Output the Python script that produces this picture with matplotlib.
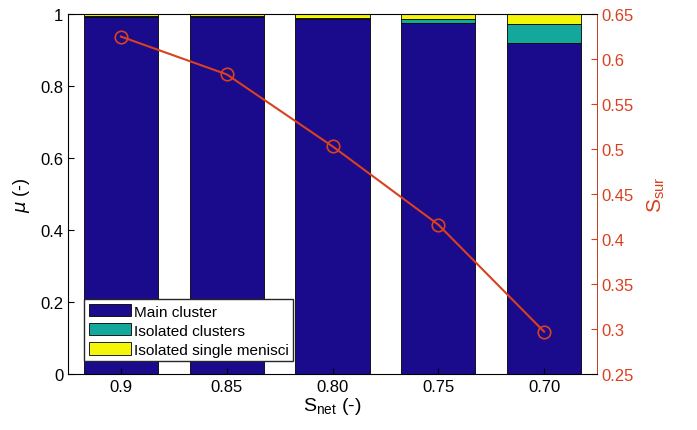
import numpy as np
import matplotlib.pyplot as plt

plt.rcParams['font.family'] = ['Liberation Sans', 'DejaVu Sans']

s_net = ['0.9', '0.85', '0.80', '0.75', '0.70']
main_cluster = [0.992, 0.993, 0.985, 0.974, 0.919]
iso_clusters = [0.002, 0.002, 0.005, 0.012, 0.053]
iso_menisci = [0.006, 0.005, 0.010, 0.014, 0.028]
s_sur = [0.625, 0.583, 0.503, 0.416, 0.297]

red = '#D9401F'
x = np.arange(1, len(s_net) + 1)

fig = plt.figure(figsize=(6.97, 4.31), dpi=100)
ax = fig.add_axes([0.0976, 0.130, 0.7589, 0.835])

bot = np.zeros(len(x))
for vals, col, lab in [(main_cluster, '#1A0A8C', 'Main cluster'),
                       (iso_clusters, '#14A89C', 'Isolated clusters'),
                       (iso_menisci, '#F5F50A', 'Isolated single menisci')]:
    ax.bar(x, vals, 0.7, bottom=bot, color=col, edgecolor='black', lw=0.6, label=lab)
    bot += np.array(vals)

ax.set_xlim(0.5, 5.5)
ax.set_ylim(0, 1)
ax.set_xticks(x)
ax.set_xticklabels(s_net)
ax.set_yticks([0, 0.2, 0.4, 0.6, 0.8, 1])
ax.set_yticklabels(['0', '0.2', '0.4', '0.6', '0.8', '1'])
ax.tick_params(labelsize=12, length=4, direction='in', top=False)
ax.set_ylabel(r'$\mu$ (-)', fontsize=13, labelpad=6)
ax.set_xlabel(r'S$_{\mathregular{net}}$ (-)', fontsize=14, labelpad=1)
for sp in ax.spines.values():
    sp.set_color('#262626')
    sp.set_linewidth(0.6)
ax.legend(loc='lower left', bbox_to_anchor=(0.03, 0.035), fontsize=11.1,
          handlelength=2.75, handleheight=0.85,
          handletextpad=0.2, borderpad=0.3, labelspacing=0.3,
          fancybox=False, edgecolor='#262626', framealpha=1,
          borderaxespad=0.0)

ax2 = ax.twinx()
ax2.plot(x, s_sur, '-o', color=red, lw=1.5, ms=9, mfc='none', mew=1.2)
ax2.set_ylim(0.25, 0.65)
ax2.set_yticks(np.arange(0.25, 0.651, 0.05))
ax2.set_yticklabels(['0.25', '0.3', '0.35', '0.4', '0.45', '0.5', '0.55', '0.6', '0.65'])
ax2.tick_params(axis='y', colors=red, labelsize=12, length=4, direction='in')
ax2.spines['right'].set_color(red)
ax2.spines['right'].set_linewidth(0.6)
ax2.set_ylabel(r'S$_{\mathregular{sur}}$', color=red, fontsize=15, labelpad=8)

fig.savefig('out.png', dpi=100)
